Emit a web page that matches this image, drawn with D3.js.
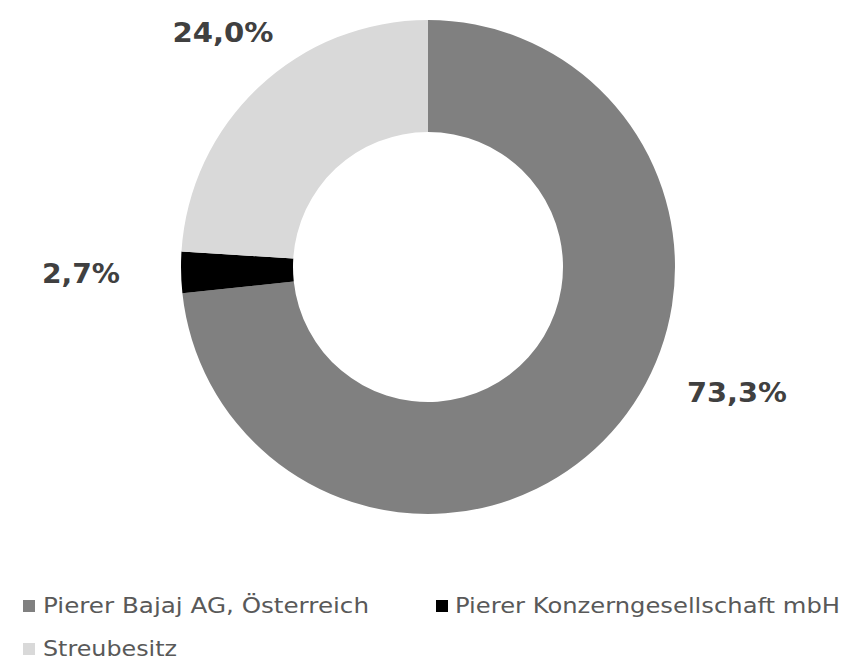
<!DOCTYPE html>
<html>
<head>
<meta charset="UTF-8">
<style>
  body { margin: 0; background: #ffffff; }
  svg { display: block; }
  text { font-family: "DejaVu Sans", Verdana, sans-serif; }
</style>
</head>
<body>
<svg></svg>
<script src="https://d3js.org/d3.v7.min.js"></script>
<script>
const categories = ["Pierer Bajaj AG, Österreich", "Pierer Konzerngesellschaft mbH", "Streubesitz"];
const values = [73.3, 2.7, 24.0];
const labels = ["73,3%", "2,7%", "24,0%"];
const colors = ["#808080", "#000000", "#d9d9d9"];

const width = 844, height = 660;
const cx = 428, cy = 267, outerR = 247, innerR = 135;

const svg = d3.select("svg").attr("width", width).attr("height", height);

const pie = d3.pie().sort(null).value(d => d);
const arcs = pie(values);
const arc = d3.arc().innerRadius(innerR).outerRadius(outerR);

const g = svg.append("g").attr("transform", `translate(${cx},${cy})`);
g.selectAll("path")
  .data(arcs)
  .enter().append("path")
  .attr("d", arc)
  .attr("fill", (d, i) => colors[i]);

// data labels, placed outside the ring like the excel original
const labelPos = [[737, 392, 100], [81, 273, 78], [223, 32, 101]];
svg.selectAll("text.lbl")
  .data(arcs)
  .enter().append("text")
  .attr("class", "lbl")
  .attr("x", (d, i) => labelPos[i][0])
  .attr("y", (d, i) => labelPos[i][1])
  .attr("text-anchor", "middle")
  .attr("dominant-baseline", "central")
  .attr("font-size", 27)
  .attr("font-weight", "bold")
  .attr("fill", "#404040")
  .attr("textLength", (d, i) => labelPos[i][2])
  .attr("lengthAdjust", "spacingAndGlyphs")
  .text((d, i) => labels[i]);

// legend
const legendPos = [[23, 606, 326], [436, 606, 385], [23, 649, 134]];
const leg = svg.selectAll("g.leg")
  .data(categories)
  .enter().append("g")
  .attr("class", "leg")
  .attr("transform", (d, i) => `translate(${legendPos[i][0]},${legendPos[i][1]})`);
leg.append("rect")
  .attr("x", 0).attr("y", -6).attr("width", 12).attr("height", 12)
  .attr("fill", (d, i) => colors[i]);
leg.append("text")
  .attr("x", (d, i) => i === 1 ? 19 : 20)
  .attr("y", 0)
  .attr("dominant-baseline", "central")
  .attr("font-size", 21)
  .attr("fill", "#595959")
  .attr("textLength", (d, i) => legendPos[i][2])
  .attr("lengthAdjust", "spacingAndGlyphs")
  .text(d => d);
</script>
</body>
</html>
